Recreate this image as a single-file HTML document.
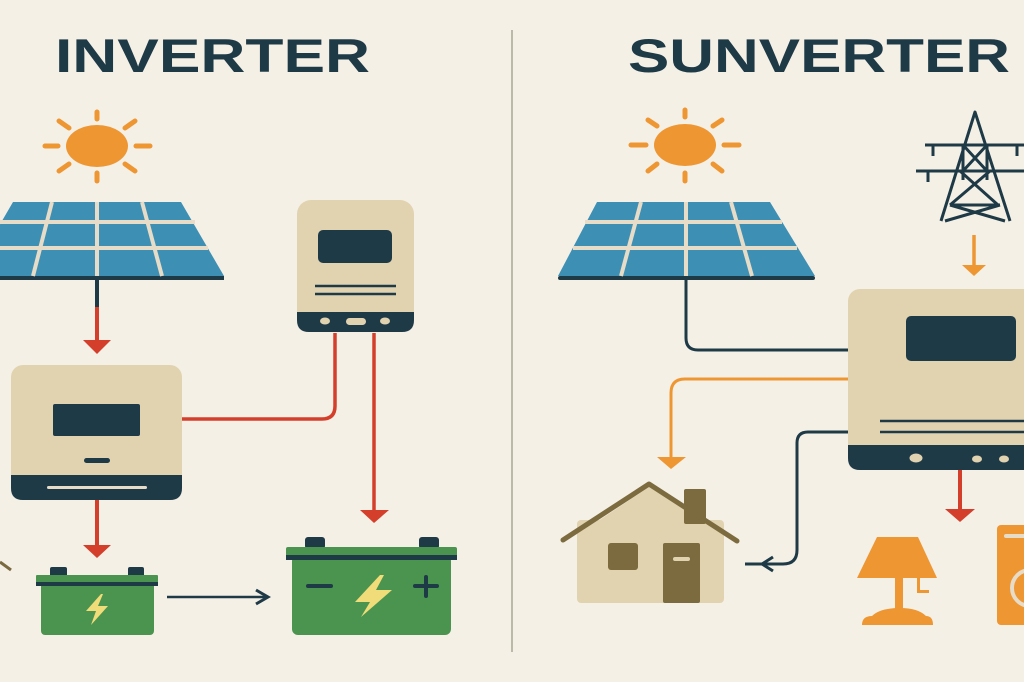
<!DOCTYPE html>
<html><head><meta charset="utf-8"><style>html,body{margin:0;padding:0;background:#f5f0e6;}svg{display:block}</style></head>
<body>
<svg width="1024" height="682" viewBox="0 0 1024 682" xmlns="http://www.w3.org/2000/svg">
<rect width="1024" height="682" fill="#f5f0e6"/>
<line x1="512" y1="30" x2="512" y2="652" stroke="#b9bba6" stroke-width="2"/>
<text x="55" y="72" font-family="Liberation Sans, sans-serif" font-weight="bold" font-size="47" fill="#1e3a47" textLength="315" lengthAdjust="spacingAndGlyphs">INVERTER</text>
<text x="628" y="72" font-family="Liberation Sans, sans-serif" font-weight="bold" font-size="47" fill="#1e3a47" textLength="382" lengthAdjust="spacingAndGlyphs">SUNVERTER</text>

<!-- LEFT sun -->
<g fill="#ee9632" stroke="#ee9632" stroke-width="5" stroke-linecap="round">
<ellipse cx="97" cy="146" rx="31" ry="21" stroke="none"/>
<line x1="97" y1="112" x2="97" y2="119"/><line x1="97" y1="173" x2="97" y2="181"/>
<line x1="45" y1="146" x2="58" y2="146"/><line x1="136" y1="146" x2="150" y2="146"/>
<line x1="59" y1="121" x2="69" y2="128"/><line x1="125" y1="128" x2="135" y2="121"/>
<line x1="59" y1="171" x2="69" y2="164"/><line x1="125" y1="164" x2="135" y2="171"/>
</g>
<!-- LEFT panel -->
<polygon points="13,202 181,202 224,276 -30,276" fill="#3e8fb4"/>
<rect x="-30" y="276" width="254" height="4" fill="#1e3a47"/>
<g stroke="#e6dcc8" stroke-width="4">
<line x1="0" y1="222" x2="195" y2="222"/><line x1="0" y1="248" x2="208" y2="248"/>
<line x1="52" y1="202" x2="33" y2="276"/><line x1="97" y1="202" x2="97" y2="276"/><line x1="142" y1="202" x2="162" y2="276"/>
</g>
<line x1="97" y1="280" x2="97" y2="308" stroke="#1e3a47" stroke-width="4"/>
<line x1="97" y1="307" x2="97" y2="342" stroke="#d33f2b" stroke-width="4"/>
<polygon points="83,340 111,340 97,354" fill="#d33f2b"/>

<!-- charge controller -->
<rect x="297" y="200" width="117" height="132" rx="14" fill="#e2d3b0"/>
<path d="M297,312 H414 V320 Q414,332 402,332 H309 Q297,332 297,320 Z" fill="#1e3a47"/>
<rect x="318" y="230" width="74" height="33" rx="5" fill="#1e3a47"/>
<line x1="315" y1="286" x2="396" y2="286" stroke="#1e3a47" stroke-width="2.5"/>
<line x1="315" y1="294" x2="396" y2="294" stroke="#1e3a47" stroke-width="2.5"/>
<ellipse cx="325" cy="321" rx="5" ry="3.5" fill="#e2d3b0"/>
<rect x="346" y="318" width="20" height="7" rx="3.5" fill="#e2d3b0"/>
<ellipse cx="385" cy="321" rx="5" ry="3.5" fill="#e2d3b0"/>

<!-- left inverter -->
<rect x="11" y="365" width="171" height="135" rx="12" fill="#e2d3b0"/>
<path d="M11,475 H182 V488 Q182,500 170,500 H23 Q11,500 11,488 Z" fill="#1e3a47"/>
<rect x="53" y="404" width="87" height="32" rx="2" fill="#1e3a47"/>
<rect x="84" y="458" width="26" height="5" rx="2.5" fill="#1e3a47"/>
<rect x="47" y="486" width="100" height="3" rx="1.5" fill="#e6dcc8"/>

<!-- red connectors -->
<path d="M182,419 H322 Q335,419 335,406 V333" fill="none" stroke="#d33f2b" stroke-width="3.5"/>
<line x1="374" y1="333" x2="374" y2="512" stroke="#d33f2b" stroke-width="3.5"/>
<polygon points="360,510 389,510 374,523" fill="#d33f2b"/>
<line x1="97" y1="500" x2="97" y2="547" stroke="#d33f2b" stroke-width="4"/>
<polygon points="83,545 111,545 97,558" fill="#d33f2b"/>

<!-- small battery -->
<rect x="50" y="567" width="17" height="10" rx="2" fill="#1e3a47"/>
<rect x="128" y="567" width="16" height="10" rx="2" fill="#1e3a47"/>
<rect x="41" y="580" width="113" height="55" rx="4" fill="#4a9450"/>
<rect x="36" y="575" width="122" height="8" rx="1" fill="#4a9450"/>
<rect x="36" y="582" width="122" height="4" fill="#1e3a47"/>
<polygon points="101,594 86,611 96,611 91,625 108,606 98,606 103,594" fill="#f0dc78"/>
<line x1="167" y1="597" x2="267" y2="597" stroke="#1e3a47" stroke-width="2.5"/>
<polyline points="256,590 268,597 256,604" fill="none" stroke="#1e3a47" stroke-width="3"/>
<line x1="0" y1="562" x2="11" y2="570" stroke="#7a6a40" stroke-width="3"/>

<!-- big battery -->
<rect x="305" y="537" width="20" height="12" rx="3" fill="#1e3a47"/>
<rect x="419" y="537" width="20" height="12" rx="3" fill="#1e3a47"/>
<rect x="292" y="555" width="159" height="80" rx="6" fill="#4a9450"/>
<rect x="286" y="547" width="171" height="10" rx="2" fill="#4a9450"/>
<rect x="286" y="555" width="171" height="5" fill="#1e3a47"/>
<rect x="306" y="584" width="27" height="4" rx="2" fill="#1e3a47"/>
<rect x="413" y="584" width="26" height="4" rx="2" fill="#1e3a47"/>
<rect x="424" y="575" width="4" height="23" rx="2" fill="#1e3a47"/>
<polygon points="380,575 355,602 370,602 361,617 392,590 376,590 384,575" fill="#f0dc78"/>

<!-- RIGHT sun -->
<g fill="#ee9632" stroke="#ee9632" stroke-width="5" stroke-linecap="round">
<ellipse cx="685" cy="145" rx="31" ry="21" stroke="none"/>
<line x1="685" y1="110" x2="685" y2="117"/><line x1="685" y1="173" x2="685" y2="181"/>
<line x1="631" y1="145" x2="646" y2="145"/><line x1="724" y1="145" x2="739" y2="145"/>
<line x1="648" y1="120" x2="657" y2="126"/><line x1="713" y1="126" x2="722" y2="120"/>
<line x1="648" y1="171" x2="657" y2="164"/><line x1="713" y1="164" x2="722" y2="171"/>
</g>
<!-- RIGHT panel -->
<polygon points="597,202 770,202 815,276 558,276" fill="#3e8fb4"/>
<rect x="558" y="276" width="257" height="4" rx="2" fill="#1e3a47"/>
<g stroke="#e6dcc8" stroke-width="4">
<line x1="585" y1="222" x2="782" y2="222"/><line x1="573" y1="248" x2="797" y2="248"/>
<line x1="641" y1="202" x2="621" y2="276"/><line x1="686" y1="202" x2="686" y2="276"/><line x1="731" y1="202" x2="752" y2="276"/>
</g>
<path d="M686,280 V338 Q686,350 698,350 H849" fill="none" stroke="#1e3a47" stroke-width="3"/>

<!-- tower -->
<g fill="none" stroke="#1e3a47" stroke-width="3" stroke-linejoin="round">
<polyline points="941,221 975,112 1010,221"/>
<line x1="925" y1="145" x2="1026" y2="145"/><line x1="916" y1="171" x2="1030" y2="171"/>
<line x1="933" y1="145" x2="933" y2="156"/><line x1="1017" y1="145" x2="1017" y2="156"/>
<line x1="928" y1="171" x2="928" y2="182"/>
<line x1="963" y1="145" x2="987" y2="171"/><line x1="987" y1="145" x2="963" y2="171"/>
<line x1="963" y1="145" x2="963" y2="180"/><line x1="987" y1="145" x2="987" y2="180"/>
<line x1="960" y1="171" x2="998" y2="205"/><line x1="990" y1="171" x2="950" y2="205"/>
<line x1="950" y1="205" x2="1005" y2="221"/><line x1="1000" y1="205" x2="945" y2="221"/>
<line x1="950" y1="205" x2="1000" y2="205"/>
</g>
<line x1="974" y1="235" x2="974" y2="266" stroke="#ee9632" stroke-width="3.5"/>
<polygon points="962,265 986,265 974,276" fill="#ee9632"/>

<!-- sunverter -->
<rect x="848" y="289" width="190" height="181" rx="12" fill="#e2d3b0"/>
<path d="M848,445 H1030 V470 H860 Q848,470 848,458 Z" fill="#1e3a47"/>
<rect x="906" y="316" width="110" height="45" rx="5" fill="#1e3a47"/>
<line x1="880" y1="421" x2="1024" y2="421" stroke="#1e3a47" stroke-width="2.5"/>
<line x1="880" y1="432" x2="1024" y2="432" stroke="#1e3a47" stroke-width="2.5"/>
<ellipse cx="916" cy="458" rx="6.5" ry="4.5" fill="#e2d3b0"/>
<ellipse cx="977" cy="459" rx="5" ry="3.5" fill="#e2d3b0"/>
<ellipse cx="1004" cy="459" rx="5" ry="3.5" fill="#e2d3b0"/>

<path d="M848,379 H685 Q671,379 671,393 V458" fill="none" stroke="#ee9632" stroke-width="3"/>
<polygon points="657,457 686,457 671,469" fill="#ee9632"/>
<path d="M848,432 H808 Q797,432 797,443 V550 Q797,564 783,564 H745" fill="none" stroke="#1e3a47" stroke-width="3"/>
<polyline points="773,557 762,564 773,571" fill="none" stroke="#1e3a47" stroke-width="3"/>
<line x1="960" y1="470" x2="960" y2="511" stroke="#d33f2b" stroke-width="4"/>
<polygon points="945,509 975,509 960,522" fill="#d33f2b"/>

<!-- house -->
<rect x="577" y="520" width="147" height="83" rx="4" fill="#e2d3b0"/>
<polygon points="649,487 577,535 724,535" fill="#e2d3b0"/>
<rect x="684" y="489" width="22" height="35" rx="2" fill="#7c6b3f"/>
<polyline points="563,540 649,484 737,541" fill="none" stroke="#7c6b3f" stroke-width="5" stroke-linecap="round" stroke-linejoin="round"/>
<rect x="608" y="543" width="30" height="27" rx="3" fill="#7c6b3f"/>
<rect x="663" y="543" width="37" height="60" rx="2" fill="#7c6b3f"/>
<rect x="673" y="557" width="17" height="4" rx="2" fill="#e2d3b0"/>

<!-- lamp -->
<g fill="#ee9632">
<polygon points="877,537 918,537 937,578 857,578"/>
<rect x="895" y="578" width="8" height="34"/>
<path d="M862,625 Q862,616 872,616 Q880,608 900,608 Q918,608 926,616 Q933,616 933,625 Z"/>
<rect x="917" y="578" width="3" height="14"/><rect x="917" y="590" width="12" height="3"/>
</g>
<!-- washer -->
<rect x="997" y="525" width="40" height="100" rx="4" fill="#ee9632"/>
<rect x="1004" y="534" width="30" height="4" rx="2" fill="#e6dcc8"/>
<circle cx="1030" cy="588" r="18" fill="none" stroke="#e6dcc8" stroke-width="4"/>
</svg>
</body></html>
